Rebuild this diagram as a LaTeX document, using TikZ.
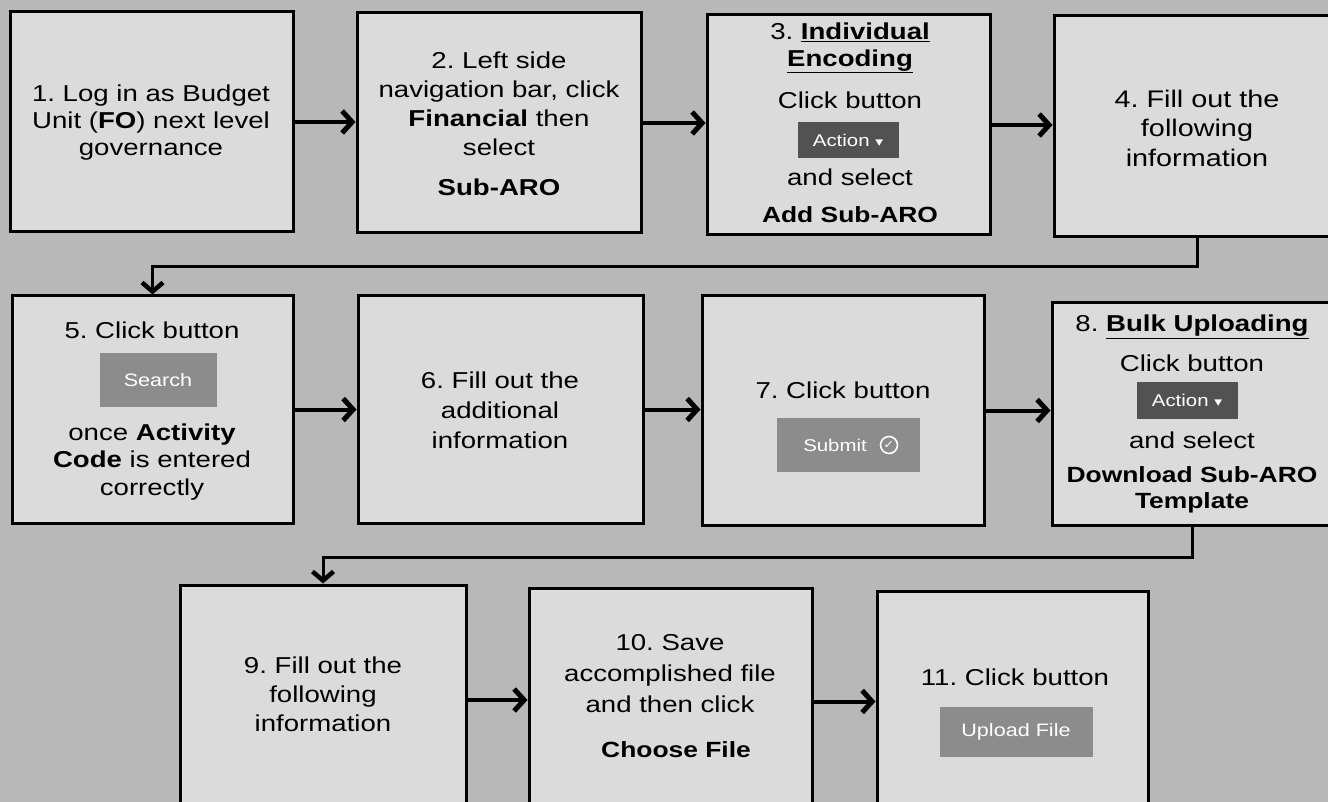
\documentclass[tikz,border=0pt]{standalone}
\usepackage{fontspec}
\setmainfont{Liberation Sans}[FakeStretch=1.2]
\newfontfamily\symfont{DejaVu Sans}[FakeStretch=1.2]
\usetikzlibrary{arrows.meta}
\frenchspacing

\definecolor{paper}{gray}{0.72}
\definecolor{boxfill}{gray}{0.86}
\definecolor{btndark}{gray}{0.32}
\definecolor{btnmid}{gray}{0.55}

\newcommand{\fsz}[2]{\fontsize{#1}{#2}\selectfont}

\tikzset{
  stepbox/.style={draw=black, line width=3pt, fill=boxfill, rectangle, inner sep=0pt},
  txt/.style={align=center, font=\fsz{23}{28}, inner sep=0pt, text=black},
  bold/.style={align=center, font=\fsz{22}{26}\bfseries, inner sep=0pt, text=black},
  btn/.style={fill=#1, text=white, inner sep=0pt, font=\fsz{17}{17}},
  flow/.style={line width=4pt, -{Straight Barb[length=10pt,width=22pt,line width=5pt]}},
  elbow/.style={line width=3pt, -{Straight Barb[length=9pt,width=21pt,line width=4.5pt]}},
}

\begin{document}
\begin{tikzpicture}[x=1pt,y=-1pt]
  \useasboundingbox (0,0) rectangle (1328,802);
  \fill[paper] (0,0) rectangle (1328,802);
  \clip (0,0) rectangle (1328,802);

  % step boxes
  \node[stepbox, minimum width=283pt, minimum height=220pt] (b1) at (151.5,122) {};
  \node[stepbox, minimum width=284pt, minimum height=220pt] (b2) at (499,123) {};
  \node[stepbox, minimum width=283pt, minimum height=220pt] (b3) at (848.5,125) {};
  \node[stepbox, minimum width=286pt, minimum height=221pt] (b4) at (1197,126.5) {};
  \node[stepbox, minimum width=281pt, minimum height=227pt] (b5) at (152.5,409.5) {};
  \node[stepbox, minimum width=285pt, minimum height=227pt] (b6) at (500.5,409.5) {};
  \node[stepbox, minimum width=282pt, minimum height=229pt] (b7) at (843,410.5) {};
  \node[stepbox, minimum width=280pt, minimum height=222pt] (b8) at (1192,414) {};
  \node[stepbox, minimum width=286pt, minimum height=230pt] (b9) at (323,700) {};
  \node[stepbox, minimum width=283pt, minimum height=227pt] (b10) at (670.5,701.5) {};
  \node[stepbox, minimum width=271pt, minimum height=224pt] (b11) at (1012.5,703) {};

  % step 1
  \node[txt, font=\fsz{23}{27}] (t1) at (151,123)
    {1. Log in as Budget\\Unit (\textbf{FO}) next level\\governance};

  % step 2
  \node[txt, font=\fsz{23}{29}] (t2) at (499,124)
    {2. Left side\\navigation bar, click\\\textbf{Financial} then\\select\\[11pt]\textbf{Sub-ARO}};

  % step 3
  \node[txt, font=\fsz{23}{27}] (t3a) at (850,48)
    {3. \underline{\textbf{Individual}}\\\underline{\textbf{Encoding}}};
  \node[txt] (t3b) at (850,100) {Click button};
  \node[btn=btndark, minimum width=101pt, minimum height=36pt] (a3) at (848,140)
    {Action {\symfont\fsz{13}{13}▾}};
  \node[txt] (t3c) at (850,177) {and select};
  \node[bold] (t3d) at (850,215) {Add Sub-ARO};

  % step 4
  \node[txt, font=\fsz{24}{29.5}] (t4) at (1197,128)
    {4. Fill out the\\following\\information};

  % step 5
  \node[txt] (t5a) at (152,330) {5. Click button};
  \node[btn=btnmid, minimum width=117pt, minimum height=54pt, font=\fsz{18}{18}] (s5) at (158,380) {Search};
  \node[txt, font=\fsz{23}{27.5}] (t5b) at (152,462)
    {once \textbf{Activity}\\\textbf{Code} is entered\\correctly};

  % step 6
  \node[txt, font=\fsz{23}{30}] (t6) at (500,410)
    {6. Fill out the\\additional\\information};

  % step 7
  \node[txt] (t7) at (843,390) {7. Click button};
  \node[btn=btnmid, minimum width=143pt, minimum height=54pt, font=\fsz{17}{17}] (s7) at (848,445)
    {Submit\kern26pt\null};
  \node[circle, draw=white, line width=1.6pt, minimum size=17pt, inner sep=0pt, text=white,
        font=\symfont\fsz{11}{11}] (ck) at (889,445) {✓};

  % step 8
  \node[txt] (t8a) at (1192,327) {8. \underline{\textbf{Bulk Uploading}}};
  \node[txt] (t8b) at (1192,363) {Click button};
  \node[btn=btndark, minimum width=101pt, minimum height=37pt] (a8) at (1187,400)
    {Action {\symfont\fsz{13}{13}▾}};
  \node[txt] (t8c) at (1192,440) {and select};
  \node[bold] (t8d) at (1192,490) {Download Sub-ARO\\Template};

  % step 9
  \node[txt, font=\fsz{23}{29}] (t9) at (323,694)
    {9. Fill out the\\following\\information};

  % step 10
  \node[txt, font=\fsz{23}{31}] (t10a) at (670,674)
    {10. Save\\accomplished file\\and then click};
  \node[bold] (t10b) at (676,750) {Choose File};

  % step 11
  \node[txt] (t11) at (1015,677) {11. Click button};
  \node[btn=btnmid, minimum width=153pt, minimum height=50pt, font=\fsz{18}{18}] (u11) at (1016,732)
    {Upload File};

  % connectors along each row
  \draw[flow] (b1.east) -- (b1.east -| b2.west);
  \draw[flow] (b2.east) -- (b2.east -| b3.west);
  \draw[flow] (b3.east) -- (b3.east -| b4.west);
  \draw[flow] (b5.east) -- (b5.east -| b6.west);
  \draw[flow] (b6.east) -- (b6.east -| b7.west);
  \draw[flow] (b7.east) -- (b7.east -| b8.west);
  \draw[flow] (b9.east) -- (b9.east -| b10.west);
  \draw[flow] (b10.east) -- (b10.east -| b11.west);

  % connectors wrapping to the next row
  \coordinate (k1) at (0,267);
  \coordinate (k2) at (0,557);
  \draw[elbow] (b4.south) -- (b4.south |- k1) -| (b5.north);
  \draw[elbow] (b8.south) -- (b8.south |- k2) -| (b9.north);
\end{tikzpicture}
\end{document}
